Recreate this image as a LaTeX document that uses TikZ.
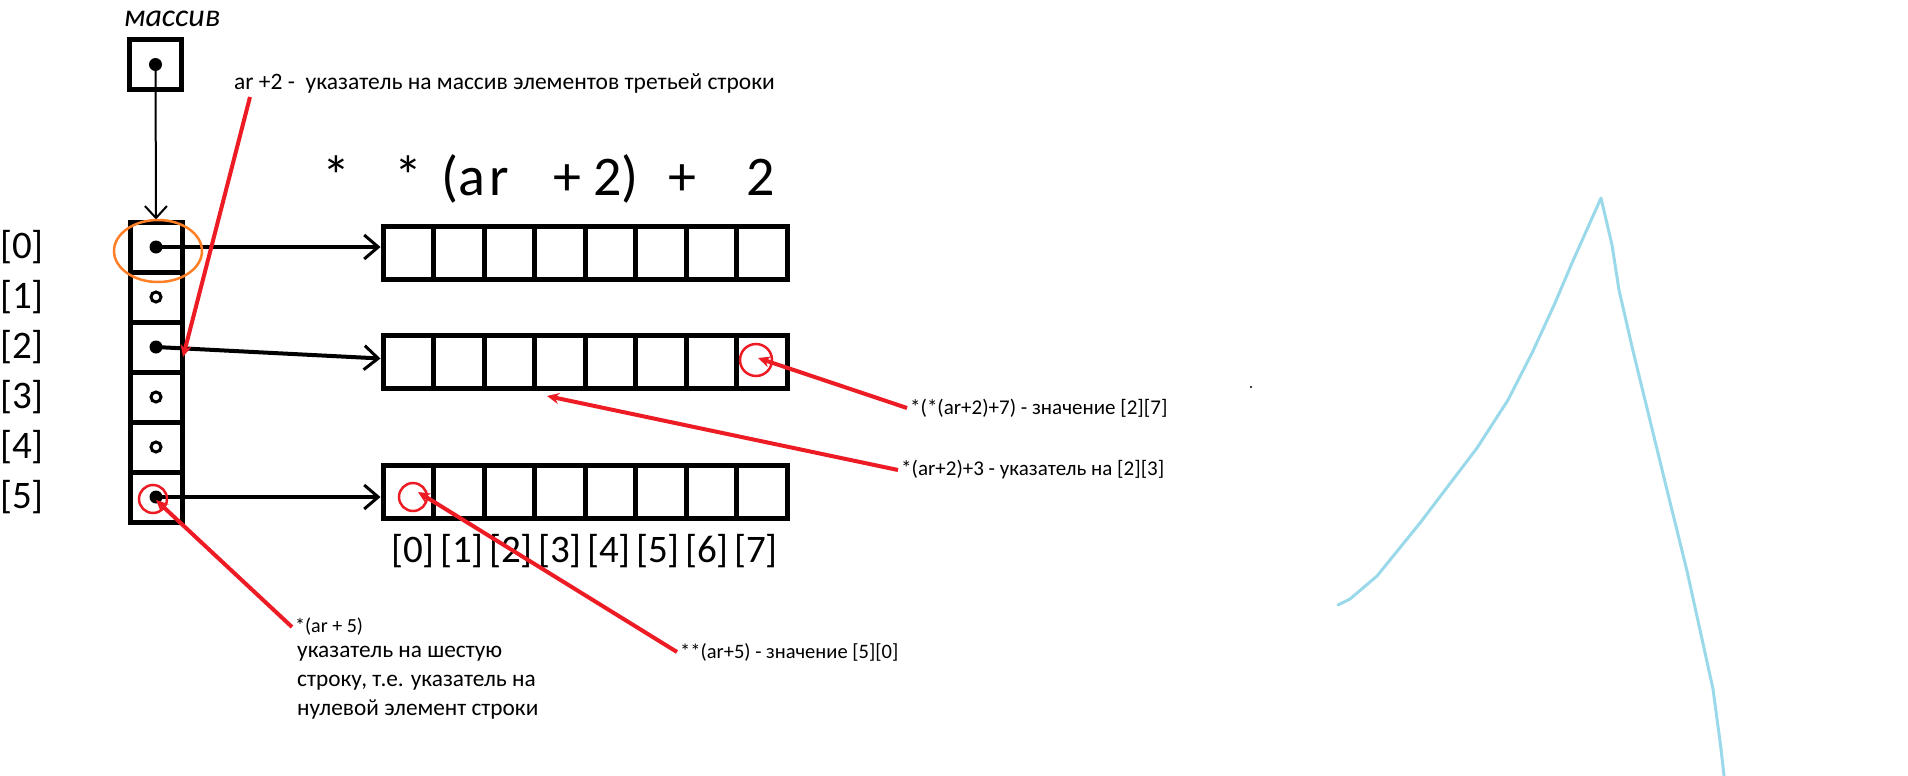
\documentclass[tikz,border=0pt]{standalone}
\usepackage{fontspec}
\setmainfont{Carlito}
\usetikzlibrary{arrows.meta}
\definecolor{pred}{RGB}{237,28,36}
\definecolor{porange}{RGB}{255,127,39}
\definecolor{pblue}{RGB}{153,217,234}

\begin{document}
\begin{tikzpicture}[x=1pt,y=-1pt,
    box/.style={draw,line width=5pt,minimum width=52pt,minimum height=50pt,inner sep=0pt},
    elem/.style={draw,line width=5pt,minimum width=50.5pt,minimum height=53pt,inner sep=0pt},
    dotf/.style={circle,fill,inner sep=0pt,minimum size=13pt},
    ring/.style={circle,draw,fill=white,line width=3pt,inner sep=0pt,minimum size=10pt},
    ptr/.style={line width=4pt,-{Straight Barb[length=14pt,width=24pt,line width=3pt]}},
    hit/.style={pred,line width=4pt,-{Stealth[length=12pt,width=11pt]}},
    note/.style={anchor=west,inner sep=3pt,font=\fontsize{21}{25}\selectfont},
    idx/.style={inner sep=0pt,font=\fontsize{39}{40}\selectfont}]
  \useasboundingbox (0,0) rectangle (1908,776);

  % pointer to the array
  \node[box] (top) at (155.5,64.5) {};
  \node[dotf] (t0) at (top) {};
  \node[font=\fontsize{32}{32}\selectfont\itshape] (name) at (172,19) {массив};

  % column of row pointers
  \foreach \i in {0,...,5}{
    \node[box] (p\i) at (156,{247+50*\i}) {};
    \node[idx] (l\i) at (22,{247+50*\i}) {[\i]};
  }
  \foreach \i in {0,2,5} \node[dotf] (d\i) at (p\i) {};
  \foreach \i in {1,3,4} \node[ring] (d\i) at (p\i) {};
  \draw[line width=2pt,-{Straight Barb[length=12pt,width=22pt]}] (t0.center) -- (p0.north);

  % rows
  \foreach \r/\y in {0/252.5,2/361.5,5/492}
    \foreach \j in {0,...,7}
      \node[elem] (r\r-\j) at ({408.25+50.5*\j},\y) {};
  \draw[ptr] (d0.center) -- (d0.center -| r0-0.west);
  \draw[ptr] (d2.center) -- ([yshift=3pt]r2-0.west);
  \draw[ptr] (d5.center) -- (d5.center -| r5-0.west);
  \foreach \j in {0,...,7} \node[idx] (c\j) at ({413+49*\j},551) {[\j]};

  % handwriting
  \node[anchor=west,inner sep=0pt,font=\fontsize{56}{56}\selectfont] (expr) at (322,179)
    {*\hspace{44pt}*\hspace{20pt}(a\hspace{4pt}r\hspace{44pt}+\hspace{12pt}2)\hspace{30pt}+\hspace{50pt}2};
  \draw[porange,line width=2.5pt] (158,251) ellipse [x radius=44,y radius=31];

  % notes
  \node[note,font=\fontsize{23.5}{26}\selectfont] (n2) at (231,83) {ar +2 -\ \ указатель на массив элементов третьей строки};
  \node[note] (n27) at (907,408) {*(*(ar+2)+7) - значение [2][7]};
  \node[note] (n23) at (898,470) {*(ar+2)+3 - указатель на [2][3]};
  \node[note,font=\fontsize{20}{24}\selectfont] (n5) at (292,627) {*(ar + 5)};
  \node[note,anchor=north west,align=left,font=\fontsize{23.3}{29}\selectfont] (n5b) at (294,643)
    {указатель на шестую\\строку, т.е. указатель на\\нулевой элемент строки};
  \node[note,font=\fontsize{20.5}{24}\selectfont] (n50) at (677,652) {**(ar+5) - значение [5][0]};

  \coordinate (s2) at (250,97);
  \coordinate (h2) at (183,357);
  \coordinate (h27) at (758,358);
  \coordinate (h23) at (547,396);
  \coordinate (h5) at (156,500);
  \coordinate (h50) at (418,492);
  \draw[pred,line width=2.5pt] (153,499) circle (14);
  \draw[pred,line width=2.5pt] (413,497) circle (14);
  \draw[pred,line width=2.5pt] (756,360) circle (16);
  \draw[hit] (s2) -- (h2);
  \draw[hit] (n27.west) -- (h27);
  \draw[hit] (n23.west) -- (h23);
  \draw[hit] (n5.west) -- (h5);
  \draw[hit] (n50.west) -- (h50);

  \fill (1251,387) circle (1.2);
  \draw[pblue,line width=3pt,line cap=round,line join=round] (1338,605) -- (1350,599) -- (1377,576)
    -- (1420,523) -- (1477,448) -- (1508,400) -- (1533,351) -- (1555,303) -- (1572,263)
    -- (1601,198) -- (1612,245) -- (1619,290) -- (1633,351) -- (1667,490) -- (1687,571)
    -- (1713,689) -- (1721,749) -- (1724,776);
\end{tikzpicture}
\end{document}
